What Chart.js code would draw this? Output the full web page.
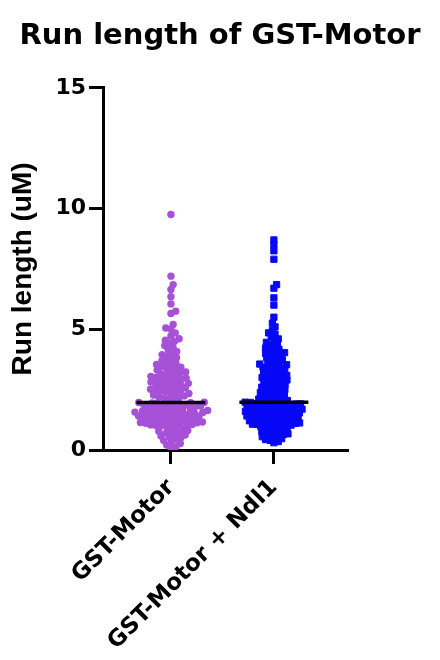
<!DOCTYPE html>
<html>
<head>
<meta charset="utf-8">
<script src="https://cdn.jsdelivr.net/npm/chart.js@4"></script>
<style>
  html, body { margin: 0; padding: 0; background: #fff; }
  #wrap { width: 440px; height: 660px; }
</style>
</head>
<body>
<div id="wrap"><canvas id="runChart"></canvas></div>
<script>
// =========================
// Data (run length, uM)
// =========================

const groupNames = ["GST-Motor", "GST-Motor + Ndl1"];
const yTicks = [0, 5, 10, 15];

const motorRuns = [
  9.75, 7.2, 6.85, 6.65, 6.35, 6.05, 5.75, 5.65, 5.2, 5.05, 5.0,
  4.85, 4.72, 4.61, 4.55, 4.5,
  4.42, 4.33, 4.25, 4.16, 4.08, 4.0,
  3.95, 3.89, 3.82, 3.76, 3.7, 3.64, 3.59, 3.54, 3.5,
  3.47, 3.43, 3.39, 3.35, 3.31, 3.27, 3.23, 3.2, 3.16, 3.12, 3.08, 3.05, 3.02, 3.0,
  2.97, 2.94, 2.91, 2.88, 2.85, 2.82, 2.79, 2.76, 2.73, 2.7, 2.67, 2.64, 2.61, 2.58, 2.55, 2.52, 2.5,
  2.47, 2.44, 2.4, 2.37, 2.34, 2.31, 2.28, 2.24, 2.21, 2.18, 2.15, 2.12, 2.09,
  1.98, 1.97, 1.96, 1.95, 1.94, 1.92, 1.9, 1.88, 1.86, 1.84, 1.82, 1.8, 1.78, 1.77, 1.75,
  1.73, 1.71, 1.69, 1.67, 1.65, 1.64, 1.62, 1.6, 1.58, 1.57, 1.55, 1.54, 1.52, 1.51, 1.5,
  1.49, 1.47, 1.45, 1.43, 1.41, 1.4, 1.38, 1.36, 1.34, 1.32, 1.31, 1.29, 1.27, 1.25, 1.23,
  1.22, 1.2, 1.18, 1.16, 1.14, 1.13, 1.11, 1.09, 1.07, 1.06, 1.04, 1.03, 1.01, 1.0,
  0.97, 0.93, 0.89, 0.85, 0.81, 0.78, 0.74, 0.7, 0.66, 0.62, 0.58, 0.54, 0.5,
  0.45, 0.39, 0.33, 0.27, 0.21, 0.14, 0.08
];

const ndl1Runs = [
  8.7, 8.5, 8.25, 7.9, 6.85, 6.7, 6.3, 6.0, 5.5, 5.25, 5.1,
  4.95, 4.85, 4.8, 4.7, 4.6, 4.55,
  4.46, 4.4, 4.33, 4.28, 4.22, 4.17, 4.12, 4.08, 4.03, 4.0,
  3.96, 3.91, 3.86, 3.82, 3.78, 3.73, 3.68, 3.64, 3.6, 3.56, 3.53, 3.5,
  3.47, 3.43, 3.4, 3.36, 3.33, 3.3, 3.26, 3.22, 3.19, 3.15, 3.12, 3.09, 3.06, 3.03, 3.0,
  2.97, 2.94, 2.9, 2.87, 2.83, 2.8, 2.77, 2.73, 2.7, 2.66, 2.63, 2.6, 2.56, 2.53, 2.5,
  2.47, 2.44, 2.41, 2.38, 2.35, 2.32, 2.29, 2.26, 2.23, 2.2, 2.17, 2.14, 2.11, 2.08, 2.05, 2.02,
  1.99, 1.98, 1.97, 1.96, 1.95, 1.94, 1.92, 1.91, 1.9, 1.88, 1.87, 1.86, 1.84, 1.83, 1.81, 1.8, 1.78, 1.77,
  1.75, 1.74, 1.72, 1.71, 1.69, 1.68, 1.66, 1.65, 1.63, 1.62, 1.6, 1.59, 1.57, 1.56, 1.54, 1.53, 1.52, 1.5,
  1.49, 1.47, 1.46, 1.44, 1.43, 1.41, 1.4, 1.38, 1.37, 1.35, 1.34, 1.32, 1.31, 1.29, 1.28, 1.26,
  1.24, 1.22, 1.21, 1.19, 1.17, 1.15, 1.14, 1.12, 1.1, 1.09, 1.07, 1.06, 1.04, 1.03, 1.01, 1.0,
  0.97, 0.94, 0.91, 0.88, 0.85, 0.82, 0.79, 0.76, 0.73, 0.7, 0.67, 0.64, 0.61, 0.58, 0.55, 0.51,
  0.47, 0.43, 0.4, 0.35, 0.3
];

// =========================
// Helpers
// =========================

function median(arr) {
  const s = [...arr].sort((a, b) => a - b);
  const m = Math.floor(s.length / 2);
  return s.length % 2 ? s[m] : (s[m - 1] + s[m]) / 2;
}

// place points side by side (pixel offsets from the group centre)
function swarmOffsets(values, yScale, gap) {
  const placed = [];
  const out = new Array(values.length).fill(0);
  const order = values.map((v, i) => i).sort((a, b) => values[a] - values[b]);
  order.forEach(i => {
    const py = yScale.getPixelForValue(values[i]);
    const near = placed.filter(p => Math.abs(p.y - py) < gap);
    const cands = [0];
    near.forEach(p => {
      const dx = Math.sqrt(gap * gap - (p.y - py) ** 2);
      cands.push(p.x + dx, p.x - dx);
    });
    cands.sort((a, b) => Math.abs(a) - Math.abs(b));
    const x = cands.find(c => near.every(p => (c - p.x) ** 2 + (py - p.y) ** 2 >= gap * gap - 0.01));
    placed.push({ x: x, y: py });
    out[i] = x;
  });
  return out;
}

const medHalf = 0.335;
function medianLine(idx, arr) {
  const m = median(arr);
  return [{ x: idx - medHalf, y: m }, { x: idx + medHalf, y: m }];
}

// =========================
// Create Chart
// =========================

Chart.defaults.font.family = "'DejaVu Sans', 'Liberation Sans', Arial, sans-serif";
Chart.defaults.color = "#000";

const ctx = document.getElementById("runChart").getContext("2d");

const runChart = new Chart(ctx, {
  type: "scatter",
  data: {
    datasets: [
      {
        label: groupNames[0],
        data: motorRuns.map(v => ({ x: 0, y: v })),
        backgroundColor: "#a651d8",
        borderWidth: 0,
        pointRadius: 3.7,
        pointStyle: "circle",
        order: 2
      },
      {
        label: groupNames[1],
        data: ndl1Runs.map(v => ({ x: 1, y: v })),
        backgroundColor: "#0808f8",
        borderColor: "#0808f8",
        borderWidth: 1,
        pointRadius: 4.4,
        pointStyle: "rect",
        order: 2
      },
      {
        type: "line",
        label: "median 1",
        data: medianLine(0, motorRuns),
        borderColor: "#000",
        borderWidth: 3.5,
        pointRadius: 0,
        order: 0
      },
      {
        type: "line",
        label: "median 2",
        data: medianLine(1, ndl1Runs),
        borderColor: "#000",
        borderWidth: 3.5,
        pointRadius: 0,
        order: 0
      }
    ]
  },
  options: {
    responsive: true,
    maintainAspectRatio: false,
    animation: false,
    layout: { padding: 0 },
    plugins: {
      legend: { display: false },
      tooltip: { enabled: false },
      title: {
        display: true,
        text: "Run length of GST-Motor",
        font: { size: 29, weight: "bold" },
        padding: { top: 19, bottom: 34 }
      }
    },
    scales: {
      x: {
        type: "linear",
        min: -0.66,
        max: 1.71,
        afterBuildTicks: s => { s.ticks = [{ value: 0 }, { value: 1 }]; },
        afterFit: s => { s.height = 210; },
        ticks: {
          autoSkip: false,
          minRotation: 45,
          maxRotation: 45,
          padding: 10,
          font: { size: 23, weight: "bold" },
          callback: v => groupNames[v]
        },
        grid: {
          drawOnChartArea: false,
          drawTicks: true,
          tickLength: 14,
          color: "#000",
          lineWidth: 3
        },
        border: { display: true, color: "#000", width: 3 }
      },
      y: {
        min: 0,
        max: 15,
        afterBuildTicks: s => { s.ticks = yTicks.map(v => ({ value: v })); },
        afterFit: s => { s.width = 103; },
        ticks: {
          padding: 3,
          font: { size: 22, weight: "bold" }
        },
        grid: {
          drawOnChartArea: false,
          drawTicks: true,
          tickLength: 14,
          color: "#000",
          lineWidth: 3
        },
        border: { display: true, color: "#000", width: 3 },
        title: {
          display: true,
          text: "Run length (uM)",
          font: { family: "'Liberation Sans', Arial, sans-serif", size: 28, weight: "bold" },
          padding: { top: 6, bottom: 0 }
        }
      },
      // empty right-hand space so the title stays centred on the page
      yRight: {
        position: "right",
        min: 0,
        max: 15,
        afterFit: s => { s.width = 93; },
        ticks: { display: false },
        grid: { display: false },
        border: { display: false }
      }
    }
  }
});

// spread the dots once the scales are known
function applySwarm() {
  const xs = runChart.scales.x, ys = runChart.scales.y;
  const pxPerUnit = xs.getPixelForValue(1) - xs.getPixelForValue(0);
  const o1 = swarmOffsets(motorRuns, ys, 5.3);
  const o2 = swarmOffsets(ndl1Runs, ys, 4.5);
  runChart.data.datasets[0].data = motorRuns.map((v, i) => ({ x: 0 + o1[i] / pxPerUnit, y: v }));
  runChart.data.datasets[1].data = ndl1Runs.map((v, i) => ({ x: 1 + o2[i] / pxPerUnit, y: v }));
  runChart.update("none");
}
applySwarm();
</script>
</body>
</html>
